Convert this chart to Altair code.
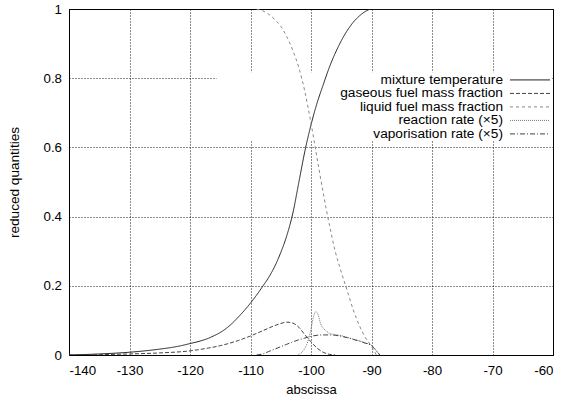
import altair as alt
import pandas as pd

# ---- data ----
temp_x = [-140, -135, -130, -125, -122, -120, -118, -117, -116, -115, -114, -113, -112, -111, -110, -109, -108, -107, -106, -105, -104, -103, -102, -101, -100, -99, -98, -97, -96, -95, -94, -93, -92, -91, -90, -80, -70, -60]
temp_y = [0.0, 0.003, 0.008, 0.017, 0.025, 0.033, 0.042, 0.048, 0.056, 0.065, 0.077, 0.092, 0.11, 0.129, 0.15, 0.173, 0.198, 0.224, 0.256, 0.296, 0.345, 0.41, 0.5, 0.59, 0.665, 0.728, 0.78, 0.83, 0.872, 0.908, 0.938, 0.962, 0.98, 0.993, 1.0, 1.0, 1.0, 1.0]

gas_x = [-140, -135, -130, -125, -120, -117, -115, -112, -110, -108, -106, -105, -104, -103, -102, -101, -100, -99, -98, -97, -96]
gas_y = [0.0, 0.001, 0.003, 0.006, 0.012, 0.02, 0.027, 0.042, 0.055, 0.07, 0.085, 0.091, 0.095, 0.092, 0.08, 0.058, 0.038, 0.02, 0.008, 0.002, 0.0]

liq_x = [-109, -108, -107, -106, -105, -104, -103, -102, -101, -100, -99, -98, -97, -96, -95, -94, -93, -92, -91, -90, -89.2]
liq_y = [1.0, 0.995, 0.985, 0.97, 0.95, 0.92, 0.88, 0.83, 0.76, 0.67, 0.57, 0.47, 0.38, 0.30, 0.24, 0.185, 0.13, 0.085, 0.05, 0.025, 0.0]

reac_x = [-102.2, -101.5, -101, -100.5, -100, -99.6, -99.2, -98.8, -98.4, -98, -97.5, -97, -96, -95, -94, -93, -92, -91, -90, -89.5, -89, -88.7]
reac_y = [0.0, 0.008, 0.02, 0.04, 0.075, 0.11, 0.125, 0.115, 0.09, 0.078, 0.07, 0.063, 0.059, 0.056, 0.051, 0.046, 0.041, 0.035, 0.028, 0.019, 0.008, 0.0]

vap_x = [-109, -108, -107, -106, -105, -104, -103, -102, -101, -100, -99, -98, -97, -96, -95, -94, -93, -92, -91, -90, -89.5, -89, -88.6]
vap_y = [0.0, 0.003, 0.01, 0.017, 0.024, 0.031, 0.038, 0.044, 0.049, 0.054, 0.057, 0.058, 0.058, 0.057, 0.054, 0.05, 0.045, 0.04, 0.034, 0.027, 0.018, 0.008, 0.0]

series_names = [
    "mixture temperature",
    "gaseous fuel mass fraction",
    "liquid fuel mass fraction",
    "reaction rate (\u00d75)",
    "vaporisation rate (\u00d75)",
]
x_ticks = [-140, -130, -120, -110, -100, -90, -80, -70, -60]
y_ticks = [0, 0.2, 0.4, 0.6, 0.8, 1]

# ---- build table ----
rows = []
for name, xs, ys in zip(series_names,
                        [temp_x, gas_x, liq_x, reac_x, vap_x],
                        [temp_y, gas_y, liq_y, reac_y, vap_y]):
    for i, (xv, yv) in enumerate(zip(xs, ys)):
        rows.append({"series": name, "x": xv, "y": yv, "i": i})
df = pd.DataFrame(rows)

colors = ["#222222", "#444444", "#888888", "#777777", "#444444"]
dashes = [[1, 0], [4, 2], [3, 3], [1, 1], [5, 2, 1, 2]]

FONT = "Liberation Sans"

xscale = alt.Scale(domain=[-140, -60], nice=False, zero=False)
yscale = alt.Scale(domain=[0, 1], nice=False)

x_enc = alt.X("x:Q", scale=xscale,
              axis=alt.Axis(values=x_ticks, title="abscissa", labelExpr="toString(datum.value)",
                            grid=True, gridColor="black", gridDash=[1, 2], gridOpacity=0.9,
                            ticks=False, domain=False, labelPadding=8, labelFontSize=13.3,
                            labelColor="black", labelFont=FONT, titleFont=FONT,
                            titleFontSize=13, titleFontWeight="normal", titleColor="black",
                            titleY=38, titleBaseline="alphabetic"))
y_enc = alt.Y("y:Q", scale=yscale,
              axis=alt.Axis(values=y_ticks, title="reduced quantities", labelExpr="toString(datum.value)",
                            grid=True, gridColor="black", gridDash=[1, 2], gridOpacity=0.9,
                            ticks=False, domain=False, labelPadding=7.5, labelFontSize=13.3,
                            labelColor="black", labelFont=FONT, titleFont=FONT,
                            titleFontSize=13.6, titleFontWeight="normal", titleColor="black",
                            titleX=-51, titleBaseline="alphabetic"))

base = alt.Chart(df)

# white box behind the key (hides the grid, as gnuplot does)
box = alt.Chart(pd.DataFrame({"a": [0]})).mark_rect(color="white").encode(
    x=alt.datum(-115.6, scale=xscale), x2=alt.datum(-60.25),
    y=alt.datum(0.621, scale=yscale), y2=alt.datum(0.817),
)

lines = base.mark_line(strokeWidth=1, clip=True, interpolate="monotone").encode(
    x=x_enc,
    y=y_enc,
    color=alt.Color("series:N", scale=alt.Scale(domain=series_names, range=colors), legend=None),
    strokeDash=alt.StrokeDash("series:N", scale=alt.Scale(domain=series_names, range=dashes), legend=None),
    order="i:Q",
)

# key
key_rows = [0.795, 0.756, 0.717, 0.678, 0.639]
key_df = pd.DataFrame({"series": series_names, "ky": key_rows})
key_text = alt.Chart(key_df).mark_text(align="right", baseline="middle", fontSize=13.7,
                                       font=FONT, color="black").encode(
    x=alt.value(434), y=alt.Y("ky:Q", scale=yscale), text="series:N")
key_lines = alt.Chart(key_df).mark_rule(strokeWidth=1).encode(
    x=alt.value(441), x2=alt.value(481), y=alt.Y("ky:Q", scale=yscale),
    color=alt.Color("series:N", scale=alt.Scale(domain=series_names, range=colors), legend=None),
    strokeDash=alt.StrokeDash("series:N", scale=alt.Scale(domain=series_names, range=dashes), legend=None),
)

chart = alt.layer(box, lines, key_text, key_lines).properties(
    width=484, height=346,
    autosize=alt.AutoSizeParams(type="none"),
    padding={"left": 69, "top": 9, "right": 10, "bottom": 44},
    background="white",
).configure_view(stroke="black", strokeWidth=1)

chart.save("out.html", embed_options={"renderer": "svg", "actions": False})
